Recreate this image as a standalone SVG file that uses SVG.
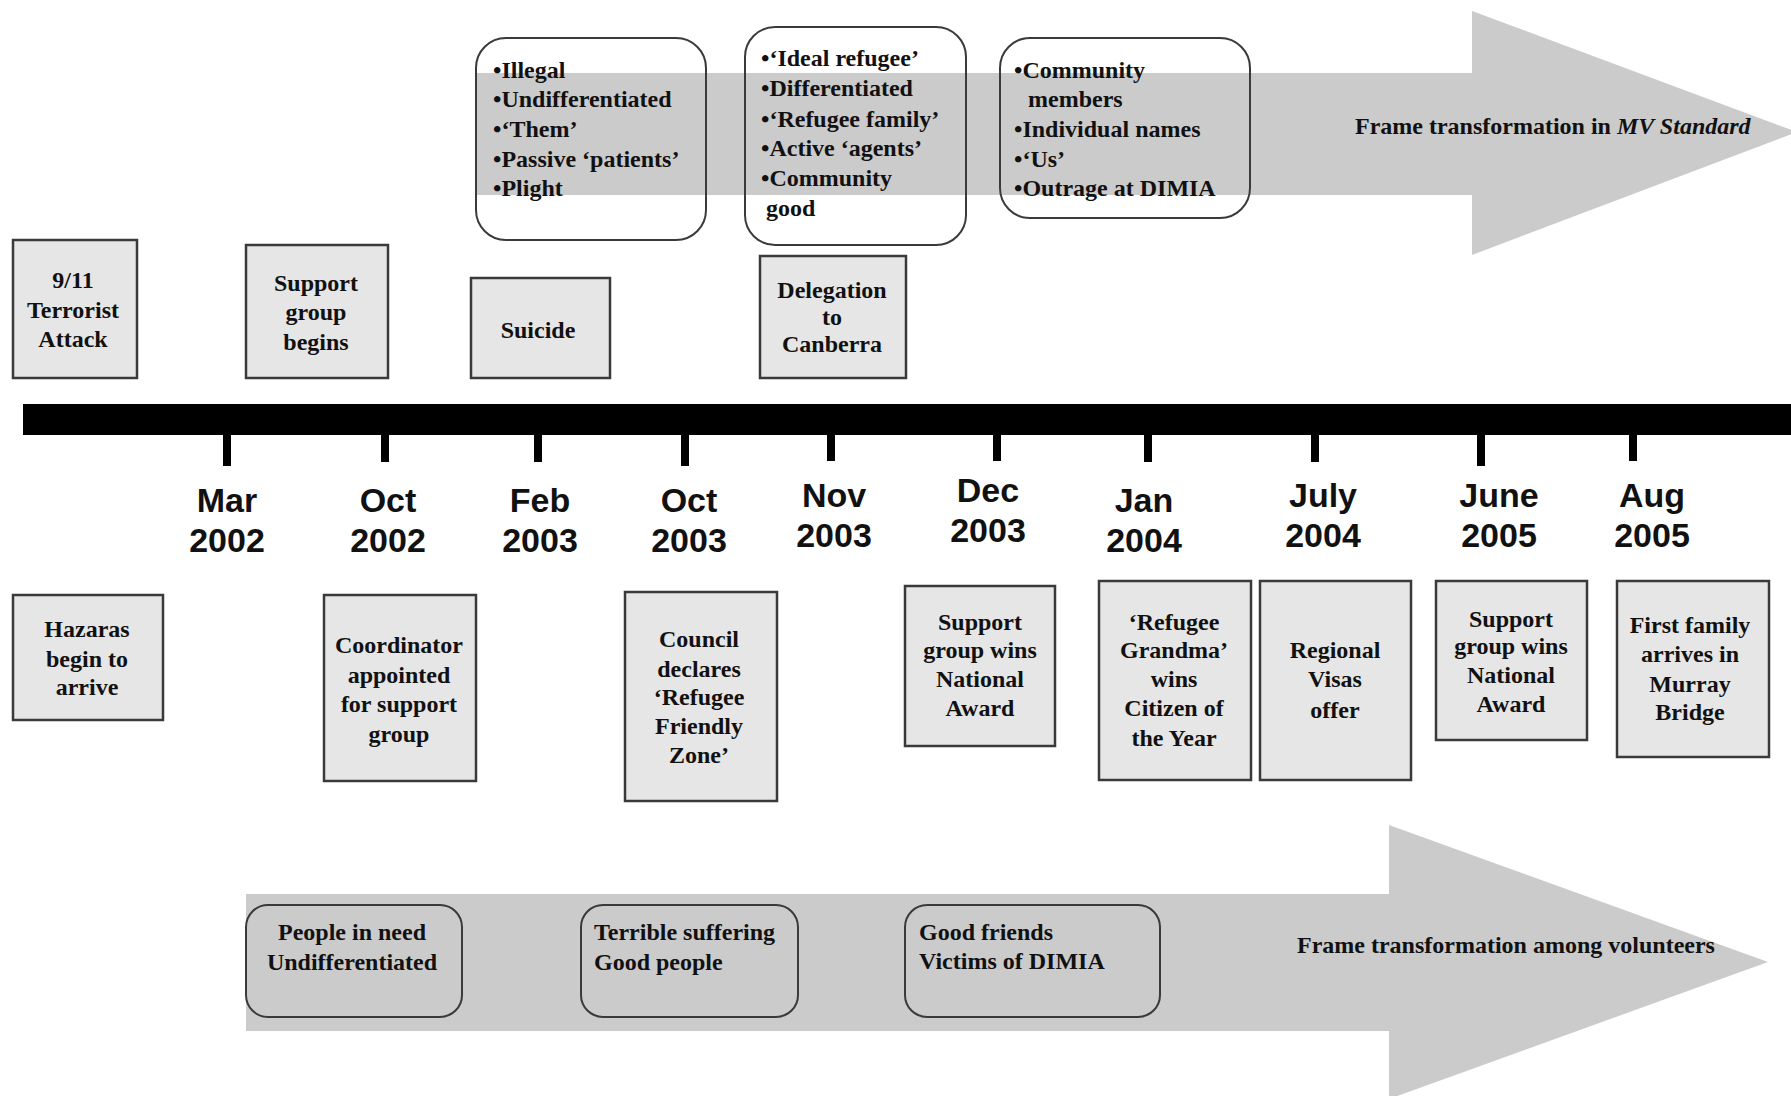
<svg xmlns="http://www.w3.org/2000/svg" width="1791" height="1096" viewBox="0 0 1791 1096">
<style>
.bg{fill:#ffffff}
.band{fill:#cbcbcb}
.frame{fill:none;stroke:#3a3a3a;stroke-width:2}
.evt{fill:#e6e6e6;stroke:#3a3a3a;stroke-width:2.5}
.t{font-family:"Liberation Serif","Times New Roman",serif;font-weight:bold;font-size:24px;fill:#111}
.c{text-anchor:middle}
.d{font-family:"Liberation Sans",Arial,sans-serif;font-weight:bold;font-size:34px;fill:#111;text-anchor:middle}
.tick{fill:#000}
</style>
<rect class="bg" x="0" y="0" width="1791" height="1096"/>

<!-- Frame transformation arrows -->
<g id="arrow-mv-standard">
<polygon class="band" points="476,73 1472,73 1472,11 1797,132 1472,255 1472,195 476,195"/>
<text class="t" x="1355" y="134">Frame transformation in <tspan font-style="italic">MV Standard</tspan></text>
</g>
<g id="arrow-volunteers">
<polygon class="band" points="246,894 1389,894 1389,825 1768,962 1389,1099 1389,1031 246,1031"/>
<text class="t" x="1297" y="953">Frame transformation among volunteers</text>
</g>

<!-- Timeline -->
<g id="timeline">
<rect x="23" y="404" width="1768" height="31" fill="#000"/>
<rect class="tick" x="223" y="430" width="8" height="36"/>
<rect class="tick" x="381" y="430" width="8" height="32"/>
<rect class="tick" x="534" y="430" width="8" height="32"/>
<rect class="tick" x="681" y="430" width="8" height="36"/>
<rect class="tick" x="827" y="430" width="8" height="31"/>
<rect class="tick" x="993" y="430" width="8" height="31"/>
<rect class="tick" x="1144" y="430" width="8" height="32"/>
<rect class="tick" x="1311" y="430" width="8" height="32"/>
<rect class="tick" x="1477" y="430" width="8" height="36"/>
<rect class="tick" x="1629" y="430" width="8" height="31"/>
</g>

<g id="dates">
<text class="d" x="227" y="512">Mar</text><text class="d" x="227" y="552">2002</text>
<text class="d" x="388" y="512">Oct</text><text class="d" x="388" y="552">2002</text>
<text class="d" x="540" y="512">Feb</text><text class="d" x="540" y="552">2003</text>
<text class="d" x="689" y="512">Oct</text><text class="d" x="689" y="552">2003</text>
<text class="d" x="834" y="507">Nov</text><text class="d" x="834" y="547">2003</text>
<text class="d" x="988" y="502">Dec</text><text class="d" x="988" y="542">2003</text>
<text class="d" x="1144" y="512">Jan</text><text class="d" x="1144" y="552">2004</text>
<text class="d" x="1323" y="507">July</text><text class="d" x="1323" y="547">2004</text>
<text class="d" x="1499" y="507">June</text><text class="d" x="1499" y="547">2005</text>
<text class="d" x="1652" y="507">Aug</text><text class="d" x="1652" y="547">2005</text>
</g>

<!-- Top frame boxes -->
<g id="frame-1">
<rect class="frame" x="476" y="38" width="230" height="202" rx="30" ry="30"/>
<text class="t" x="493" y="78">•Illegal</text>
<text class="t" x="493" y="107">•Undifferentiated</text>
<text class="t" x="493" y="137">•‘Them’</text>
<text class="t" x="493" y="167">•Passive ‘patients’</text>
<text class="t" x="493" y="196">•Plight</text>
</g>
<g id="frame-2">
<rect class="frame" x="745" y="27" width="221" height="218" rx="30" ry="30"/>
<text class="t" x="761" y="66">•‘Ideal refugee’</text>
<text class="t" x="761" y="96">•Differentiated</text>
<text class="t" x="761" y="127">•‘Refugee family’</text>
<text class="t" x="761" y="156">•Active ‘agents’</text>
<text class="t" x="761" y="186">•Community</text>
<text class="t" x="766" y="216">good</text>
</g>
<g id="frame-3">
<rect class="frame" x="1000" y="38" width="250" height="180" rx="30" ry="30"/>
<text class="t" x="1014" y="78">•Community</text>
<text class="t" x="1028" y="107">members</text>
<text class="t" x="1014" y="137">•Individual names</text>
<text class="t" x="1014" y="167">•‘Us’</text>
<text class="t" x="1014" y="196">•Outrage at DIMIA</text>
</g>

<!-- Top event boxes -->
<g id="evt-911">
<rect class="evt" x="13" y="240" width="124" height="138"/>
<text class="t c" x="73" y="288">9/11</text>
<text class="t c" x="73" y="318">Terrorist</text>
<text class="t c" x="73" y="347">Attack</text>
</g>
<g id="evt-support-begins">
<rect class="evt" x="246" y="245" width="142" height="133"/>
<text class="t c" x="316" y="291">Support</text>
<text class="t c" x="316" y="320">group</text>
<text class="t c" x="316" y="350">begins</text>
</g>
<g id="evt-suicide">
<rect class="evt" x="471" y="278" width="139" height="100"/>
<text class="t c" x="538" y="338">Suicide</text>
</g>
<g id="evt-delegation">
<rect class="evt" x="760" y="256" width="146" height="122"/>
<text class="t c" x="832" y="298">Delegation</text>
<text class="t c" x="832" y="325">to</text>
<text class="t c" x="832" y="352">Canberra</text>
</g>

<!-- Bottom event boxes -->
<g id="evt-hazaras">
<rect class="evt" x="13" y="595" width="150" height="125"/>
<text class="t c" x="87" y="637">Hazaras</text>
<text class="t c" x="87" y="667">begin to</text>
<text class="t c" x="87" y="695">arrive</text>
</g>
<g id="evt-coordinator">
<rect class="evt" x="324" y="595" width="152" height="186"/>
<text class="t c" x="399" y="653">Coordinator</text>
<text class="t c" x="399" y="683">appointed</text>
<text class="t c" x="399" y="712">for support</text>
<text class="t c" x="399" y="742">group</text>
</g>
<g id="evt-council">
<rect class="evt" x="625" y="592" width="152" height="209"/>
<text class="t c" x="699" y="647">Council</text>
<text class="t c" x="699" y="677">declares</text>
<text class="t c" x="699" y="705">‘Refugee</text>
<text class="t c" x="699" y="734">Friendly</text>
<text class="t c" x="699" y="763">Zone’</text>
</g>
<g id="evt-award-2003">
<rect class="evt" x="905" y="586" width="150" height="160"/>
<text class="t c" x="980" y="630">Support</text>
<text class="t c" x="980" y="658">group wins</text>
<text class="t c" x="980" y="687">National</text>
<text class="t c" x="980" y="716">Award</text>
</g>
<g id="evt-grandma">
<rect class="evt" x="1099" y="581" width="152" height="199"/>
<text class="t c" x="1174" y="630">‘Refugee</text>
<text class="t c" x="1174" y="658">Grandma’</text>
<text class="t c" x="1174" y="687">wins</text>
<text class="t c" x="1174" y="716">Citizen of</text>
<text class="t c" x="1174" y="746">the Year</text>
</g>
<g id="evt-visas">
<rect class="evt" x="1260" y="581" width="151" height="199"/>
<text class="t c" x="1335" y="658">Regional</text>
<text class="t c" x="1335" y="687">Visas</text>
<text class="t c" x="1335" y="718">offer</text>
</g>
<g id="evt-award-2005">
<rect class="evt" x="1436" y="581" width="151" height="159"/>
<text class="t c" x="1511" y="627">Support</text>
<text class="t c" x="1511" y="654">group wins</text>
<text class="t c" x="1511" y="683">National</text>
<text class="t c" x="1511" y="712">Award</text>
</g>
<g id="evt-first-family">
<rect class="evt" x="1617" y="581" width="152" height="176"/>
<text class="t c" x="1690" y="633">First  family</text>
<text class="t c" x="1690" y="662">arrives in</text>
<text class="t c" x="1690" y="692">Murray</text>
<text class="t c" x="1690" y="720">Bridge</text>
</g>

<!-- Bottom frame boxes -->
<g id="vol-1">
<rect class="frame" x="246" y="905" width="216" height="112" rx="22" ry="22"/>
<text class="t c" x="352" y="940">People in need</text>
<text class="t c" x="352" y="970">Undifferentiated</text>
</g>
<g id="vol-2">
<rect class="frame" x="581" y="905" width="217" height="112" rx="22" ry="22"/>
<text class="t" x="594" y="940">Terrible suffering</text>
<text class="t" x="594" y="970">Good people</text>
</g>
<g id="vol-3">
<rect class="frame" x="905" y="905" width="255" height="112" rx="22" ry="22"/>
<text class="t" x="919" y="940">Good friends</text>
<text class="t" x="919" y="969">Victims of DIMIA</text>
</g>

<g id="connectors"></g>
</svg>
